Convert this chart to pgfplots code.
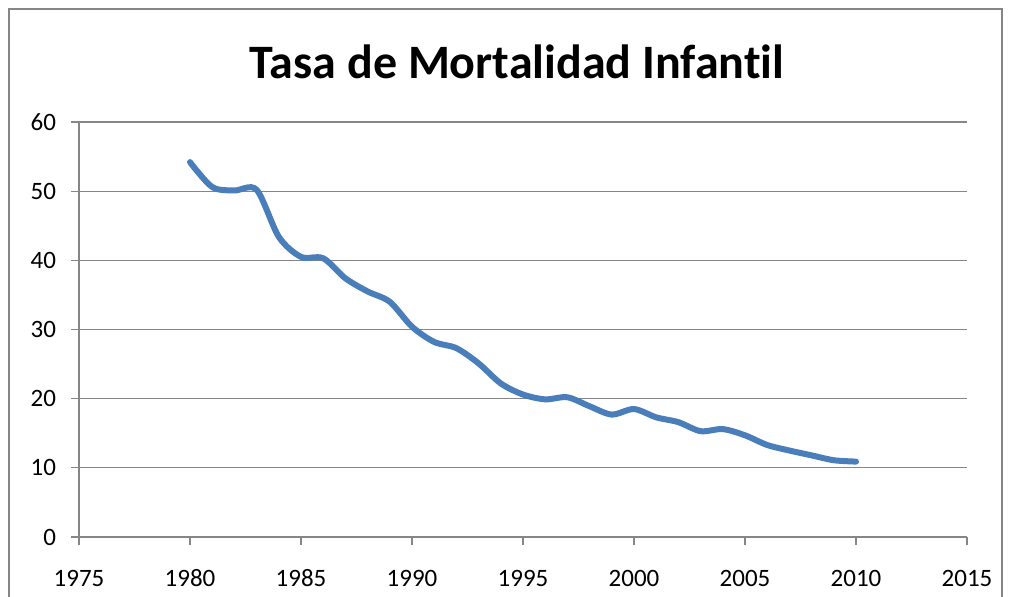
\documentclass[border=0pt]{standalone}
\usepackage{pgfplots}
\pgfplotsset{compat=1.18}
\usepackage{fontspec}
\setmainfont{Carlito}[Ligatures=NoCommon]
\definecolor{linecol}{RGB}{74,126,187}
\definecolor{gridcol}{RGB}{134,134,134}
\begin{document}
\begin{tikzpicture}[x=1pt,y=1pt]
\useasboundingbox (-39.5,-30) rectangle (465.5,268.5);
\draw[gridcol,line width=0.6pt] (-35,-31) -- (-35,264) -- (461.5,264) -- (461.5,-31);
\node[font=\bfseries\fontsize{24}{28}\selectfont] at (219,237.5) {Tasa de Mortalidad Infantil};
\begin{axis}[
  at={(0,0)}, anchor=south west,
  scale only axis, width=444pt, height=207.5pt,
  xmin=1975, xmax=2015, ymin=0, ymax=60,
  xtick={1975,1980,...,2015}, ytick={0,10,...,60},
  axis x line*=bottom, axis y line*=left,
  axis line style={gridcol, line width=0.6pt, -},
  ymajorgrids, major grid style={gridcol, line width=0.6pt},
  tick style={gridcol, line width=0.6pt},
  major tick length=4pt, tick align=outside,
  x tick label style={font=\fontsize{12.5}{15}\selectfont, anchor=base, yshift=-21pt},
  y tick label style={font=\fontsize{12.5}{15}\selectfont, xshift=-4pt},
  /pgf/number format/1000 sep={},
  /pgf/number format/assume math mode=true,
  clip=false,
]
\addplot[linecol, line width=3pt, smooth, line cap=round] coordinates {
(1980,54.2) (1981,50.6) (1982,50.1) (1983,50.2) (1984,43.4) (1985,40.5)
(1986,40.3) (1987,37.4) (1988,35.5) (1989,34.0) (1990,30.4) (1991,28.2)
(1992,27.3) (1993,25.1) (1994,22.2) (1995,20.6) (1996,19.9) (1997,20.2)
(1998,18.9) (1999,17.7) (2000,18.5) (2001,17.3) (2002,16.6) (2003,15.3)
(2004,15.6) (2005,14.7) (2006,13.3) (2007,12.5) (2008,11.8) (2009,11.1)
(2010,10.9)
};
\end{axis}
\end{tikzpicture}
\end{document}
